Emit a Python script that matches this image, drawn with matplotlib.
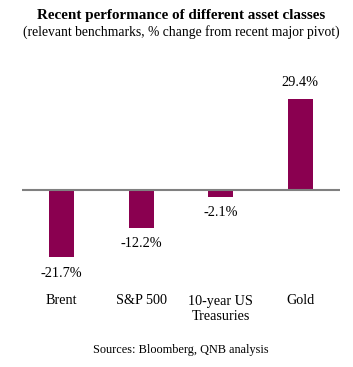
import matplotlib
matplotlib.use("Agg")
import matplotlib.pyplot as plt

categories = ["Brent", "S&P 500", "10-year US\nTreasuries", "Gold"]
values = [-21.7, -12.2, -2.1, 29.4]
value_labels = ["-21.7%", "-12.2%", "-2.1%", "29.4%"]

W, H = 353, 367
fig = plt.figure(figsize=(W / 100, H / 100), dpi=100)
plt.rcParams['font.family'] = ['Liberation Serif', 'DejaVu Serif']

# axes in pixel coords
left, right, top, bottom = 22, 340, 70, 270
ax = fig.add_axes([left / W, 1 - bottom / H, (right - left) / W, (bottom - top) / H])
scale = 3.11
zero_y = 190
ax.set_ylim(-(bottom - zero_y) / scale, (zero_y - top) / scale)
ax.set_xlim(-0.5, len(categories) - 0.5)

color = "#8A0050"
x = list(range(len(categories)))
ax.bar(x, values, width=0.31, color=color, zorder=2)
ax.axhline(0, color="#808080", lw=1.5, zorder=3)

for xi, v, lab in zip(x, values, value_labels):
    off = 16 if v > 0 else -16
    ax.annotate(lab, (xi, v), xytext=(0, off * 0.72), textcoords="offset points",
                ha="center", va="center", fontsize=10.3, color="black")

for s in ax.spines.values():
    s.set_visible(False)
ax.set_xticks([])
ax.set_yticks([])

# category labels
for xi, c in zip(x, categories):
    lines = c.split("\n")
    for j, ln in enumerate(lines):
        fig.text((left + (xi + 0.5) * (right - left) / len(categories)) / W,
                 1 - (301 + j * 16) / H, ln, ha="center", va="center", fontsize=10.2)

fig.text(181 / W, 1 - 15 / H, "Recent performance of different asset classes",
         ha="center", va="center", fontsize=10.9, fontweight="bold")
fig.text(181 / W, 1 - 32 / H, "(relevant benchmarks, % change from recent major pivot)",
         ha="center", va="center", fontsize=9.8)
fig.text(181 / W, 1 - 350 / H, "Sources: Bloomberg, QNB analysis",
         ha="center", va="center", fontsize=8.8)

fig.savefig("out.png", dpi=100)
